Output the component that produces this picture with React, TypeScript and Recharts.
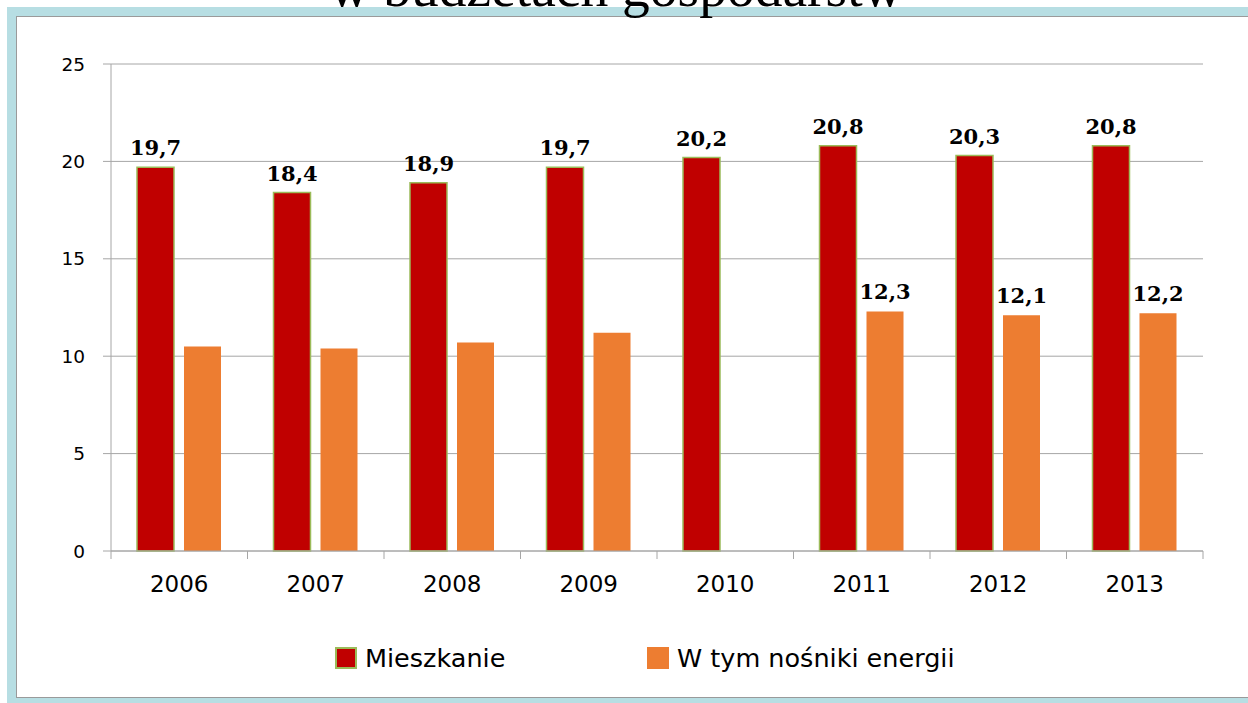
import React from 'react';
import { BarChart, Bar, XAxis, YAxis, CartesianGrid, Legend, LabelList } from 'recharts';

const years = ['2006', '2007', '2008', '2009', '2010', '2011', '2012', '2013'];
const mieszkanie = [19.7, 18.4, 18.9, 19.7, 20.2, 20.8, 20.3, 20.8];
const nosniki: (number | null)[] = [10.5, 10.4, 10.7, 11.2, null, 12.3, 12.1, 12.2];
// etykiety przy pomarańczowych słupkach są tylko dla ostatnich lat
const nosnikiLabelled = [false, false, false, false, false, true, true, true];
const yTicks = [0, 5, 10, 15, 20, 25];

const data = years.map((year, i) => ({
  year,
  mieszkanie: mieszkanie[i],
  nosniki: nosniki[i],
  nosnikiLabel: nosnikiLabelled[i] ? nosniki[i] : null,
}));

const W = 1248;
const H = 703;
const PLOT_LEFT = 111;
const PLOT_RIGHT = 1203;
const BAND = (PLOT_RIGHT - PLOT_LEFT) / years.length;

const RED = '#C00000';
const ORANGE = '#ED7D31';
const GRID = '#A6A6A6';
const FRAME = '#B7DEE3';

const fmt = (v: number) => v.toFixed(1).replace('.', ',');

const labelStyle = {
  fontFamily: '"DejaVu Serif", serif',
  fontWeight: 700,
  fontSize: 21,
  fill: '#000',
};

const XTick = (props: any) => {
  const { x, y, payload, index } = props;
  const left = x - BAND / 2;
  return (
    <g>
      <line x1={left} y1={y - 8} x2={left} y2={y} stroke={GRID} />
      {index === years.length - 1 && (
        <line x1={left + BAND} y1={y - 8} x2={left + BAND} y2={y} stroke={GRID} />
      )}
      <text
        x={x}
        y={y + 33}
        textAnchor="middle"
        style={{ fontFamily: '"DejaVu Sans", sans-serif', fontSize: 23, fill: '#000' }}
      >
        {payload.value}
      </text>
    </g>
  );
};

const BarLabel = (props: any) => {
  const { x, y, width, value } = props;
  if (value == null) return null;
  return (
    <text x={x + width / 2} y={y - 12} textAnchor="middle" style={labelStyle}>
      {fmt(value)}
    </text>
  );
};

const LegendContent = () => {
  const item = (color: string, border: string, text: string, left: number) => (
    <div style={{ position: 'absolute', left, top: 32, display: 'flex', alignItems: 'center' }}>
      <div
        style={{
          width: 18,
          height: 18,
          background: color,
          border: `2px solid ${border}`,
          marginRight: 8,
        }}
      />
      <span style={{ fontFamily: '"DejaVu Sans", sans-serif', fontSize: 25.5, color: '#000' }}>
        {text}
      </span>
    </div>
  );
  return (
    <div style={{ position: 'relative', width: W, height: 92 }}>
      {item(RED, '#9BBB59', 'Mieszkanie', 335)}
      {item(ORANGE, ORANGE, 'W tym nośniki energii', 647)}
    </div>
  );
};

export default function App() {
  return (
    <div style={{ position: 'absolute', left: 0, top: 0, width: W, height: H, background: '#fff', overflow: 'hidden' }}>
      {/* ramka */}
      <div
        style={{
          position: 'absolute',
          left: 7,
          top: 7,
          width: W,
          height: H,
          background: FRAME,
        }}
      />
      <div
        style={{
          position: 'absolute',
          left: 16,
          top: 16,
          width: W,
          height: 696 - 16,
          background: '#fff',
          borderLeft: '1px solid #9A9A9A',
          borderTop: '1px solid #9A9A9A',
          borderBottom: '1px solid #9A9A9A',
        }}
      />
      <div style={{ position: 'absolute', left: 0, top: 0 }}>
        <BarChart
          width={W}
          height={H}
          data={data}
          margin={{ top: 64, right: W - PLOT_RIGHT, bottom: 0, left: 0 }}
          barCategoryGap={26}
          barGap={10}
        >
          <CartesianGrid vertical={false} stroke={GRID} />
          <XAxis
            dataKey="year"
            height={60}
            stroke={GRID}
            tickLine={false}
            tick={<XTick />}
            interval={0}
          />
          <YAxis
            width={PLOT_LEFT}
            domain={[0, 25]}
            ticks={yTicks}
            stroke={GRID}
            tickSize={8}
            tickMargin={18}
            tick={{ fontFamily: '"DejaVu Sans", sans-serif', fontSize: 18.5, fill: '#000' }}
          />
          <Legend
            verticalAlign="bottom"
            content={<LegendContent />}
            wrapperStyle={{ left: 0, width: W, height: 92 }}
          />
          <Bar
            dataKey="mieszkanie"
            name="Mieszkanie"
            fill={RED}
            stroke="#9BBB59"
            strokeWidth={1.5}
            isAnimationActive={false}
          >
            <LabelList dataKey="mieszkanie" content={<BarLabel />} />
          </Bar>
          <Bar dataKey="nosniki" name="W tym nośniki energii" fill={ORANGE} isAnimationActive={false}>
            <LabelList dataKey="nosnikiLabel" content={<BarLabel />} />
          </Bar>
        </BarChart>
      </div>
      <svg style={{ position: 'absolute', left: 0, top: 0 }} width={W} height={30}>
        <text
          x={616}
          y={6}
          textAnchor="middle"
          style={{ fontFamily: '"Liberation Serif", serif', fontSize: 55.5, fill: '#000' }}
        >
          w budżetach gospodarstw
        </text>
      </svg>
    </div>
  );
}
